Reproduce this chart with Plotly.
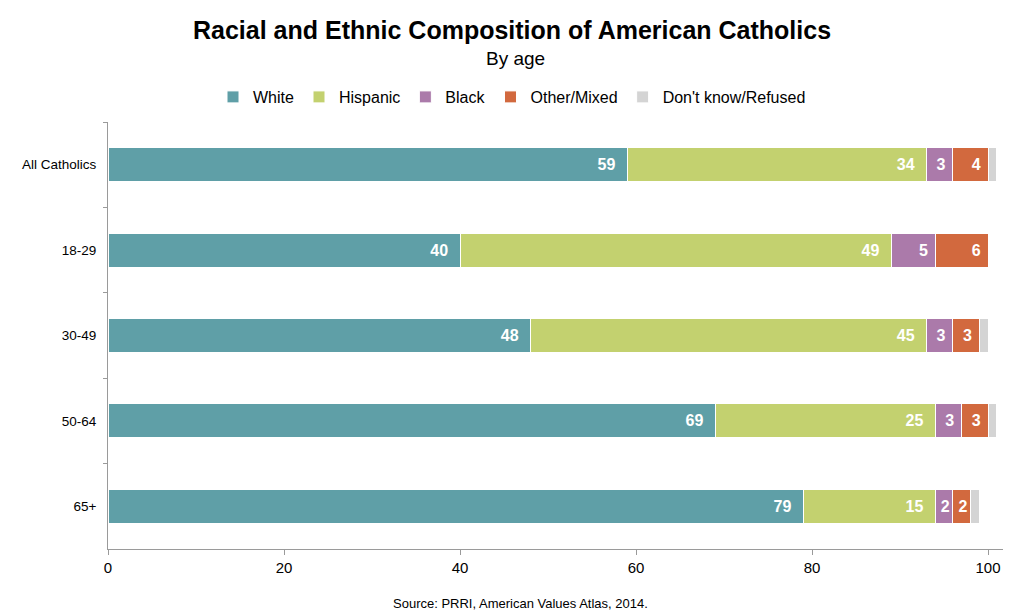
import plotly.graph_objects as go

categories = ["All Catholics", "18-29", "30-49", "50-64", "65+"]
white = [59, 40, 48, 69, 79]
hispanic = [34, 49, 45, 25, 15]
black = [3, 5, 3, 3, 2]
other = [4, 6, 3, 3, 2]
dont_know = [1, 0, 1, 1, 1]

series = [
    ("White", white, "#5F9FA7", True),
    ("Hispanic", hispanic, "#C3D16F", True),
    ("Black", black, "#AB7AAA", True),
    ("Other/Mixed", other, "#D2693E", True),
    ("Don't know/Refused", dont_know, "#D4D4D4", False),
]

FONT = "Liberation Sans"
NARROW = "Liberation Sans Narrow, Liberation Sans"

# page body has an 8px offset; design in screen coordinates then shift
OFF = 8
W, H = 1024 - OFF, 612 - OFF
ML, MR, MT, MB = 108 - OFF, 21, 122 - OFF, 63


def sx(px):
    return px - OFF


pw = W - ML - MR
ph = H - MT - MB


def paper_x(screen_x):
    return (sx(screen_x) - ML) / pw


def paper_y(screen_y):
    return (H - MB - sx(screen_y)) / ph


def label(v):
    if v >= 10:
        pad = "&nbsp;&nbsp;"
    elif v >= 3:
        pad = "&nbsp;"
    else:
        pad = ""
    return f"{v}{pad}"


fig = go.Figure()
for name, vals, color, show_text in series:
    fig.add_trace(go.Bar(
        name=name,
        y=categories,
        x=vals,
        orientation="h",
        marker=dict(color=color, line=dict(color="white", width=1)),
        width=0.4,
        text=[label(v) for v in vals] if show_text else None,
        textposition="inside" if show_text else "none",
        insidetextanchor="end",
        textangle=0,
        insidetextfont=dict(family=FONT, size=16, color="white", weight="bold"),
        hoverinfo="x+name",
    ))

fig.update_layout(
    barmode="stack",
    width=W, height=H,
    paper_bgcolor="white", plot_bgcolor="white",
    margin=dict(l=ML, r=MR, t=MT, b=MB, autoexpand=False),
    font=dict(family=FONT, color="black"),
    showlegend=True,
    legend=dict(orientation="h", xref="paper", x=paper_x(512), xanchor="center",
                yref="paper", y=paper_y(97), yanchor="middle",
                font=dict(size=16, family=FONT),
                traceorder="normal", itemwidth=30),
    annotations=[
        dict(text="<b>Racial and Ethnic Composition of American Catholics</b>",
             x=paper_x(512), y=paper_y(30), xref="paper", yref="paper",
             showarrow=False, xanchor="center", yanchor="middle",
             font=dict(size=25, family=FONT)),
        dict(text="By age", x=paper_x(515), y=paper_y(58),
             xref="paper", yref="paper",
             showarrow=False, xanchor="center", yanchor="middle",
             font=dict(size=19, family=FONT)),
        dict(text="Source: PRRI, American Values Atlas, 2014.",
             x=paper_x(520), y=paper_y(603), xref="paper", yref="paper",
             showarrow=False, xanchor="center", yanchor="middle",
             font=dict(size=13, family=NARROW)),
    ],
)

fig.update_xaxes(range=[0, 101.7], tickvals=[0, 20, 40, 60, 80, 100],
                 showgrid=False, zeroline=False, showline=True,
                 linecolor="#9A9A9A", linewidth=1, ticks="outside",
                 ticklen=5, tickcolor="#9A9A9A",
                 tickfont=dict(size=15, family=NARROW, color="black"))
fig.update_yaxes(autorange="reversed", type="category", showgrid=False,
                 showline=True, linecolor="#9A9A9A", linewidth=1,
                 ticks="outside", tickson="boundaries", ticklen=4,
                 tickcolor="#9A9A9A", ticklabelstandoff=8,
                 tickfont=dict(size=13.5, family=FONT, color="black"))

fig.write_html("out.html")
